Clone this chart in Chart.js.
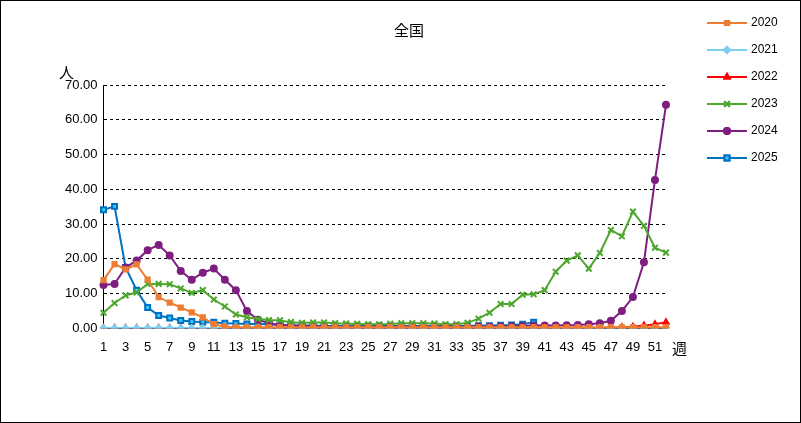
<!DOCTYPE html>
<html><head><meta charset="utf-8">
<script src="https://cdn.jsdelivr.net/npm/chart.js@4"></script>
<style>
body{margin:0;background:#fff;font-family:"Noto Sans CJK JP","Liberation Sans",sans-serif}
#wrap{position:absolute;left:0;top:0;width:799px;height:421px;border:1px solid #000;}
#t{position:absolute;left:393px;top:18px;font-size:15px}
#yl{position:absolute;left:58px;top:60px;font-size:15px}
#xl{position:absolute;left:671px;top:336px;font-size:15px}
</style></head><body>
<div id="wrap"><canvas id="c" width="799" height="421"></canvas>
<div id="t">全国</div><div id="yl">人</div><div id="xl">週</div></div>
<script>
var weeks = [];
for (var i = 1; i <= 52; i++) weeks.push(String(i));
var v2020 = [13.9,18.5,17,18.4,14,9,7.4,6,4.6,3.2,1.2,0.5,0.3,0.3,0.3,0.3,0.3,0.3,0.3,0.3,0.3,0.3,0.3,0.3,0.3,0.3,0.3,0.3,0.3,0.3,0.3,0.3,0.3,0.3,0.3,0.3,0.3,0.3,0.3,0.3,0.3,0.3,0.3,0.3,0.3,0.3,0.3,0.3,0.3,0.3,0.3,0.3];
var v2021 = [0.1,0.1,0.1,0.1,0.1,0.1,0.1,0.1,0.1,0.1,0.1,0.1,0.1,0.1,0.1,0.1,0.1,0.1,0.1,0.1,0.1,0.1,0.1,0.1,0.1,0.1,0.1,0.1,0.1,0.1,0.1,0.1,0.1,0.1,0.1,0.1,0.1,0.1,0.1,0.1,0.1,0.1,0.1,0.1,0.1,0.1,0.1,0.1,0.1,0.1,0.1,0.1];
var v2022 = [0.1,0.1,0.1,0.1,0.1,0.1,0.1,0.1,0.1,0.1,0.1,0.1,0.1,0.1,0.1,0.1,0.1,0.1,0.1,0.1,0.1,0.1,0.1,0.1,0.1,0.1,0.1,0.1,0.1,0.1,0.1,0.1,0.1,0.1,0.1,0.1,0.1,0.1,0.1,0.1,0.1,0.1,0.1,0.1,0.1,0.1,0.2,0.3,0.5,0.8,1.2,1.8];
var v2023 = [4.5,7.3,9.5,10.3,12.8,12.8,12.7,11.5,10.2,11,8.3,6.3,4,3.2,2.7,2.4,2.3,1.8,1.6,1.7,1.7,1.5,1.4,1.3,1.2,1.2,1.3,1.5,1.5,1.5,1.4,1.2,1.2,1.6,2.8,4.5,7,7,9.7,9.8,11,16.3,19.5,21,17.2,21.7,28.3,26.5,33.6,29.5,23.2,21.8];
var v2024 = [12.5,12.8,17.5,19.5,22.5,24,21,16.5,14,16,17.2,14,11,5,2.5,1.5,1,0.8,0.6,0.6,0.5,0.5,0.5,0.5,0.5,0.5,0.5,0.5,0.5,0.5,0.5,0.5,0.5,0.5,0.5,0.5,0.5,0.6,0.7,0.8,0.8,0.8,0.9,1,1.2,1.5,2.2,5,9,19,42.7,64.3];
var v2025 = [34.1,35.1,17.5,11,6,3.7,3,2.3,2,1.8,1.8,1.5,1.4,1.3,1.3,1.2,1.0,0.9,0.8,0.8,0.7,0.7,0.7,0.7,0.7,0.7,0.7,0.7,0.7,0.7,0.7,0.7,0.7,0.7,0.8,0.8,0.9,1.0,1.2,1.8];

function ds(label, data, color, style, fill, r) {
  return {label: label, data: data, borderColor: color, backgroundColor: fill || color,
    pointStyle: style, pointRadius: r || 3, pointBorderColor: color, borderWidth: 2, tension: 0};
}

// legend drawn by hand: line + marker + label, stacked on the right
var legendPlugin = {id: 'sideLegend', afterDraw: function(ch) {
  var ctx = ch.ctx;
  ch.data.datasets.forEach(function(d, i) {
    var y = 22 + i * 27;
    ctx.save();
    ctx.strokeStyle = d.borderColor; ctx.lineWidth = 2;
    ctx.beginPath(); ctx.moveTo(706, y); ctx.lineTo(746, y); ctx.stroke();
    Chart.helpers.drawPoint(ctx, {pointStyle: d.pointStyle, radius: d.pointRadius, borderWidth: 1.5}, 726, y);
    ctx.fillStyle = d.backgroundColor; ctx.strokeStyle = d.borderColor;
    ctx.beginPath();
    Chart.helpers.drawPoint(ctx, {pointStyle: d.pointStyle, radius: d.pointRadius, borderWidth: 1.5}, 726, y);
    ctx.fillStyle = '#000'; ctx.font = '12px "Liberation Sans"'; ctx.textBaseline = 'middle';
    ctx.fillText(d.label, 750, y);
    ctx.restore();
  });
}};

new Chart(document.getElementById('c'), {
  type: 'line',
  data: {labels: weeks, datasets: [
    ds('2020', v2020, '#ED7D31', 'rect'),
    ds('2021', v2021, '#7FCFF0', 'rectRot'),
    ds('2022', v2022, '#FF0000', 'triangle'),
    ds('2023', v2023, '#4EA72E', 'crossRot', null, 4),
    ds('2024', v2024, '#7E1E80', 'circle'),
    ds('2025', v2025, '#0070C0', 'rect', '#33CCFF', 3.5)
  ]},
  options: {
    responsive: false, animation: false,
    layout: {padding: {left: 58, top: 84, bottom: 64, right: 134}},
    plugins: {legend: {display: false}, title: {display: false}},
    scales: {
      x: {offset: false, grid: {display: false}, border: {color: '#000'},
        ticks: {color: '#000', font: {size: 13}, autoSkip: false, maxRotation: 0,
          callback: function(v, i) { return i % 2 === 0 ? weeks[i] : ''; }}},
      y: {min: 0, max: 70, border: {color: '#000', dash: [3, 3]},
        grid: {color: '#000', lineWidth: 1, drawTicks: false},
        ticks: {stepSize: 10, color: '#000', font: {size: 13}, padding: 6,
          callback: function(v) { return v.toFixed(2); }}}
    }
  },
  plugins: [legendPlugin]
});
</script></body></html>
